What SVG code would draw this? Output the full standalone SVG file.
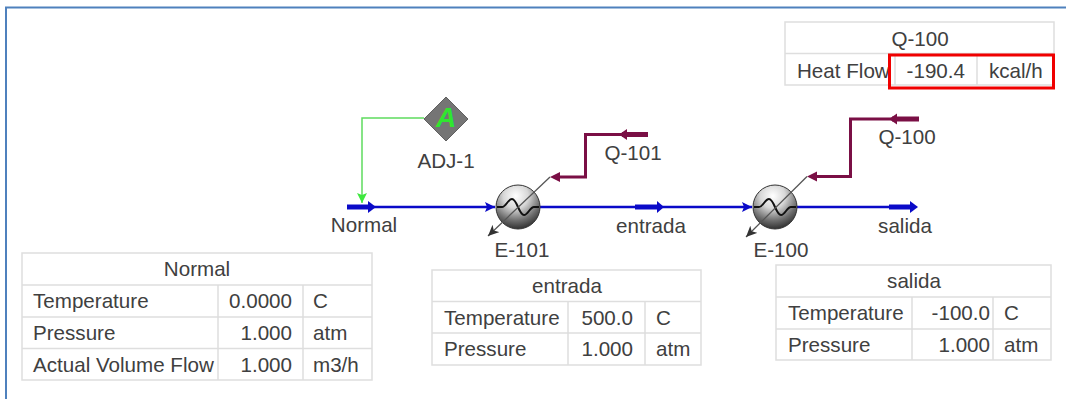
<svg xmlns="http://www.w3.org/2000/svg" width="1066" height="399" viewBox="0 0 1066 399">
<style>
text{font-family:"Liberation Sans",Arial,sans-serif;font-size:20.6px;fill:#404040}
.m{text-anchor:middle}.e{text-anchor:end}
.grid{fill:#fff;stroke:#dedede;stroke-width:1.5}
.cell{fill:none;stroke:#dedede;stroke-width:1.5}
.st{fill:none;stroke:#0a0ac8;stroke-width:2.5}
.thick{fill:none;stroke:#0a0ac8;stroke-width:5}
.q{fill:none;stroke:#7a0f45;stroke-width:3}
.qt{fill:none;stroke:#7a0f45;stroke-width:5}
.dg{fill:none;stroke:#555;stroke-width:1.3}
.coil{fill:none;stroke:#111;stroke-width:2}
</style>
<defs>
<radialGradient id="sph" cx="0.45" cy="0.25" r="0.8">
<stop offset="0" stop-color="#ffffff"/><stop offset="0.35" stop-color="#d8d8d8"/><stop offset="0.7" stop-color="#6e6e6e"/><stop offset="1" stop-color="#222"/>
</radialGradient>
<marker id="ab" markerUnits="userSpaceOnUse" markerWidth="12" markerHeight="12" refX="10" refY="5" orient="auto"><path d="M0 0L10 5L0 10L2 5Z" fill="#0a0ac8"/></marker>
<marker id="ag" markerUnits="userSpaceOnUse" markerWidth="12" markerHeight="12" refX="10" refY="5" orient="auto"><path d="M0 0L10 5L0 10L2 5Z" fill="#3ee83e"/></marker>
<marker id="ak" markerUnits="userSpaceOnUse" markerWidth="14" markerHeight="12" refX="11" refY="5" orient="auto"><path d="M0 0L11 5L0 10L3 5Z" fill="#333"/></marker>
</defs>
<rect width="1066" height="399" fill="#fff"/>
<path d="M6 399V7.500H1066" fill="none" stroke="#4f81bd" stroke-width="2"/>

<g id="connectors">
<path d="M424 118H362V203" fill="none" stroke="#5fdc5f" stroke-width="1.5" marker-end="url(#ag)"/>
<path class="st" d="M347 207H495" marker-end="url(#ab)"/>
<path class="thick" d="M347 207H370"/><path d="M368 201L376 207L368 213Z" fill="#0a0ac8"/>
<path class="st" d="M540 207H752" marker-end="url(#ab)"/>
<path class="thick" d="M635 207H658"/><path d="M657 201L664 207L657 213Z" fill="#0a0ac8"/>
<path class="st" d="M797 207H900"/>
<path class="thick" d="M889 207H912"/><path d="M910 201L918 207L910 213Z" fill="#0a0ac8"/>
<path class="qt" d="M648 134.500H622"/><path d="M627 129L619 134.500L627 140Z" fill="#7a0f45"/>
<path class="q" d="M625 134.500H585.500V177H558"/><path d="M560 172L550 177L560 182Z" fill="#7a0f45"/>
<path class="qt" d="M919 119H892"/><path d="M897 113.500L889 119L897 124.500Z" fill="#7a0f45"/>
<path class="q" d="M895 119H850.500V176.500H815"/><path d="M817 171.500L807 176.500L817 181.500Z" fill="#7a0f45"/>
</g>

<g id="ADJ-1">
<path d="M446 97L468 119L446 141L424 119Z" fill="#757575" stroke="#606060"/>
<text x="446" y="127" class="m" style="font-size:28px;font-weight:bold;font-style:italic;fill:#2fe62f">A</text>
<text x="446" y="168" class="m">ADJ-1</text>
</g>

<g id="E-101">
<circle cx="518" cy="207" r="22" fill="url(#sph)" stroke="#333"/>
<path class="coil" d="M497 207H502C506 207 508 199 512 199C517 199 519 215 524 215C528 215 530 207 534 207H539"/>
<path class="dg" d="M550 177L488 236" marker-end="url(#ak)"/>
<text x="522" y="257" class="m">E-101</text>
</g>

<g id="E-100">
<circle cx="775" cy="207" r="22" fill="url(#sph)" stroke="#333"/>
<path class="coil" d="M754 207H759C763 207 765 199 769 199C774 199 776 215 781 215C785 215 787 207 791 207H796"/>
<path class="dg" d="M807 176.500L746 237" marker-end="url(#ak)"/>
<text x="781" y="257" class="m">E-100</text>
</g>

<g id="Normal"><text x="364" y="232" class="m">Normal</text></g>
<g id="entrada"><text x="651" y="233" class="m">entrada</text></g>
<g id="salida"><text x="905" y="233" class="m">salida</text></g>
<g id="Q-101"><text x="633" y="160" class="m">Q-101</text></g>
<g id="Q-100"><text x="907" y="144" class="m">Q-100</text></g>

<g id="table-Q-100">
<rect class="grid" x="785" y="22" width="269" height="63"/>
<path class="cell" d="M785 53.500H1054M895 53.500V85M977 53.500V85"/>
<text x="920" y="46" class="m">Q-100</text>
<text x="797" y="78">Heat Flow</text>
<text x="965" y="78" class="e">-190.4</text>
<text x="989" y="78">kcal/h</text>
<rect x="889.500" y="55" width="164" height="33" fill="none" stroke="#f00000" stroke-width="3"/>
</g>

<g id="table-Normal">
<rect class="grid" x="22" y="253" width="350" height="127"/>
<path class="cell" d="M22 285H372M22 317H372M22 348.500H372M218 285V380M303 285V380"/>
<text x="197" y="276" class="m">Normal</text>
<text x="33" y="308">Temperature</text><text x="292" y="308" class="e">0.0000</text><text x="313" y="308">C</text>
<text x="33" y="340">Pressure</text><text x="292" y="340" class="e">1.000</text><text x="313" y="340">atm</text>
<text x="33" y="372">Actual Volume Flow</text><text x="292" y="372" class="e">1.000</text><text x="313" y="372">m3/h</text>
</g>

<g id="table-entrada">
<rect class="grid" x="432" y="270" width="269" height="95"/>
<path class="cell" d="M432 301.500H701M432 333H701M568 301.500V365M645 301.500V365"/>
<text x="567" y="293" class="m">entrada</text>
<text x="444" y="325">Temperature</text><text x="633" y="325" class="e">500.0</text><text x="656" y="325">C</text>
<text x="444" y="356">Pressure</text><text x="633" y="356" class="e">1.000</text><text x="656" y="356">atm</text>
</g>

<g id="table-salida">
<rect class="grid" x="776" y="265" width="275" height="95"/>
<path class="cell" d="M776 297H1051M776 329H1051M912 297V360M993 297V360"/>
<text x="914" y="288" class="m">salida</text>
<text x="788" y="320">Temperature</text><text x="990" y="320" class="e">-100.0</text><text x="1004" y="320">C</text>
<text x="788" y="352">Pressure</text><text x="990" y="352" class="e">1.000</text><text x="1004" y="352">atm</text>
</g>
</svg>
